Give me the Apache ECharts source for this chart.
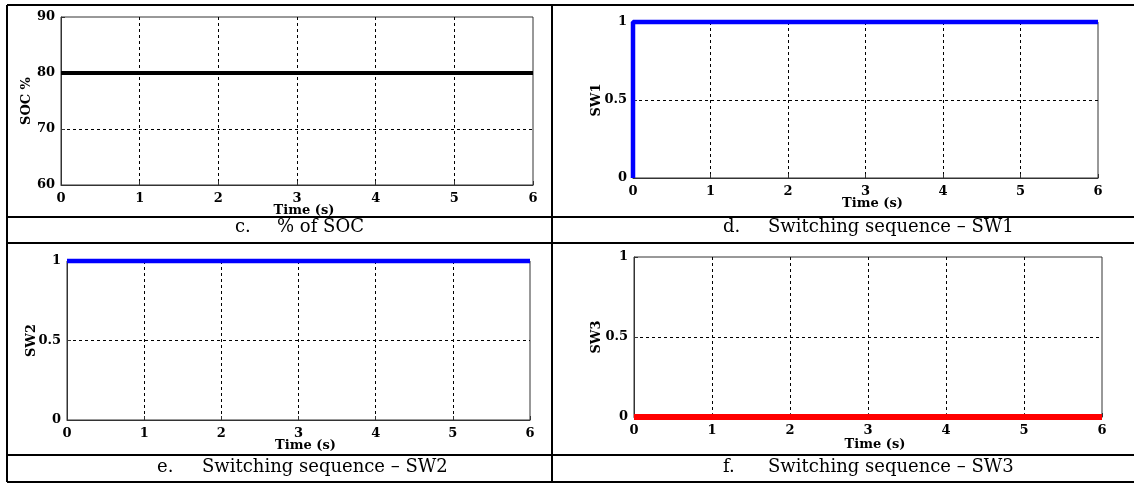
<!DOCTYPE html>
<html>
<head>
<meta charset="utf-8">
<title>SOC and switching sequences</title>
<script src="https://cdn.jsdelivr.net/npm/echarts@6/dist/echarts.min.js"></script>
<style>
  html, body { margin: 0; padding: 0; background: #fff; }
  #chart { width: 1134px; height: 484px; }
</style>
</head>
<body>
<div id="chart"></div>
<script>
// values
const socTime = [0, 6]
const socValues = [80, 80]
const sw1Time = [0, 0, 6]
const sw1Values = [0, 1, 1]
const sw2Time = [0, 6]
const sw2Values = [1, 1]
const sw3Time = [0, 6]
const sw3Values = [0, 0]
const captionLabels = ['c.', 'd.', 'e.', 'f.']
const captionTexts = ['% of SOC', 'Switching sequence – SW1', 'Switching sequence – SW2', 'Switching sequence – SW3']
const yNames = ['SOC %', 'SW1', 'SW2', 'SW3']

const FONT = 'DejaVu Serif'

// layout of the four panels
const panels = [
  { grid: { left: 61, top: 17, width: 472, height: 168 }, min: 60, max: 90, interval: 10, gap: 28, xGap: 19, time: socTime, values: socValues, color: '#000000', width: 4 },
  { grid: { left: 633, top: 22, width: 465, height: 156 }, min: 0, max: 1, interval: 0.5, gap: 30, xGap: 19, time: sw1Time, values: sw1Values, color: '#0000ff', width: 4.5 },
  { grid: { left: 67, top: 261, width: 463, height: 159 }, min: 0, max: 1, interval: 0.5, gap: 29, xGap: 19, time: sw2Time, values: sw2Values, color: '#0000ff', width: 4.5 },
  { grid: { left: 634, top: 257, width: 468, height: 160 }, min: 0, max: 1, interval: 0.5, gap: 31, xGap: 21, time: sw3Time, values: sw3Values, color: '#ff0000', width: 6 }
]
const captionPos = [
  { lx: 235, tx: 277, y: 227 },
  { lx: 723, tx: 768, y: 227 },
  { lx: 157, tx: 202, y: 467 },
  { lx: 723, tx: 768, y: 467 }
]

const labelStyle = { fontFamily: FONT, fontWeight: 'bold', fontSize: 13, color: '#000' }
const dashLine = { show: true, showMinLine: false, showMaxLine: false, lineStyle: { type: [3, 3], color: '#000', width: 1 } }
const axisLine = { show: true, lineStyle: { color: '#333', width: 1 } }
const axisTick = { show: true, inside: true, length: 4, lineStyle: { color: '#333' } }

const chartInstance = echarts.init(document.getElementById('chart'))

const grids = panels.map((p) => Object.assign({ show: true, borderColor: '#333', borderWidth: 1 }, p.grid))
const xAxes = panels.map((p, i) => ({
  type: 'value',
  gridIndex: i,
  min: 0,
  max: 6,
  interval: 1,
  name: 'Time (s)',
  nameLocation: 'middle',
  nameGap: p.xGap,
  nameMoveOverlap: false,
  nameTextStyle: Object.assign({ padding: [0, 0, 0, 14] }, labelStyle),
  axisLine: axisLine,
  axisTick: axisTick,
  axisLabel: Object.assign({ margin: 7 }, labelStyle),
  splitLine: dashLine
}))
const yAxes = panels.map((p, i) => ({
  type: 'value',
  gridIndex: i,
  min: p.min,
  max: p.max,
  interval: p.interval,
  name: yNames[i],
  nameLocation: 'middle',
  nameGap: p.gap,
  nameMoveOverlap: false,
  nameTextStyle: labelStyle,
  axisLine: axisLine,
  axisTick: axisTick,
  axisLabel: Object.assign({ margin: 6 }, labelStyle),
  splitLine: dashLine
}))
const series = panels.map((p, i) => ({
  type: 'line',
  xAxisIndex: i,
  yAxisIndex: i,
  data: p.time.map((t, k) => [t, p.values[k]]),
  symbol: 'none',
  clip: false,
  z: 5,
  lineStyle: { color: p.color, width: p.width }
}))

// table frame around the panels
const tableLines = []
;[5, 217, 243, 455, 482].forEach((y) => {
  tableLines.push({ type: 'line', shape: { x1: 7, y1: y, x2: 1134, y2: y }, style: { stroke: '#000', lineWidth: 2 } })
})
;[7, 552].forEach((x) => {
  tableLines.push({ type: 'line', shape: { x1: x, y1: 5, x2: x, y2: 482 }, style: { stroke: '#000', lineWidth: 2 } })
})
const captionItems = []
captionPos.forEach((c, i) => {
  captionItems.push({ type: 'text', x: c.lx, y: c.y, style: { text: captionLabels[i], font: '18px "' + FONT + '"', fill: '#000', verticalAlign: 'middle' } })
  captionItems.push({ type: 'text', x: c.tx, y: c.y, style: { text: captionTexts[i], font: '18px "' + FONT + '"', fill: '#000', verticalAlign: 'middle' } })
})

chartInstance.setOption({
  animation: false,
  backgroundColor: '#fff',
  grid: grids,
  xAxis: xAxes,
  yAxis: yAxes,
  series: series,
  graphic: tableLines.concat(captionItems)
})
</script>
</body>
</html>
